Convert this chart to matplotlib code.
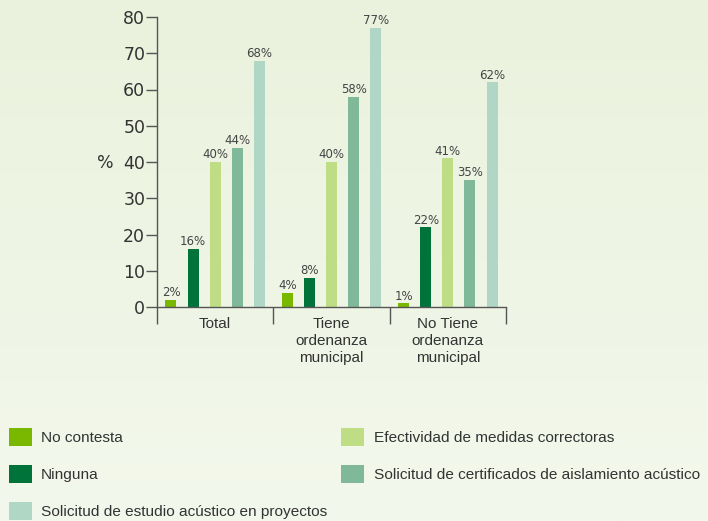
import numpy as np
import matplotlib
matplotlib.use('Agg')
import matplotlib.pyplot as plt
from matplotlib.patches import Patch

# data
groups = ['Total', 'Tiene\nordenanza\nmunicipal', 'No Tiene\nordenanza\nmunicipal']
series = ['No contesta', 'Ninguna', 'Efectividad de medidas correctoras',
          'Solicitud de certificados de aislamiento acústico',
          'Solicitud de estudio acústico en proyectos']
no_contesta = [2, 4, 1]
ninguna = [16, 8, 22]
efectividad = [40, 40, 41]
certificados = [44, 58, 35]
estudio = [68, 77, 62]
colors = ['#7ab800', '#00733a', '#bfdd85', '#80b99a', '#b0d6c5']

values = [no_contesta, ninguna, efectividad, certificados, estudio]

fig = plt.figure(figsize=(7.08, 5.21), dpi=100)

# background gradient
bg = fig.add_axes([0, 0, 1, 1], zorder=-10)
top = np.array([234, 242, 221]) / 255
bottom = np.array([243, 248, 236]) / 255
t = np.linspace(0, 1, 256)[:, None, None]
grad = top * (1 - t) + bottom * t
grad = np.repeat(grad, 4, axis=1)
bg.imshow(grad, aspect='auto', extent=[0, 1, 0, 1])
bg.axis('off')

ax = fig.add_axes([157 / 708, 1 - 307 / 521, 349 / 708, 290 / 521])
ax.patch.set_alpha(0)

spacing = 0.19
width = 0.095
centers = np.arange(len(groups)) + 0.5
for i, (vals, col) in enumerate(zip(values, colors)):
    xs = centers + (i - 2) * spacing
    ax.bar(xs, vals, width=width, color=col, zorder=2)
    for x, v in zip(xs, vals):
        ax.annotate(f'{v}%', (x, v), xytext=(0, 0.5), textcoords='offset points',
                    ha='center', va='bottom', fontsize=8.5, color='#444444',
                    family='DejaVu Sans')

ax.set_xlim(0, 3)
ax.set_ylim(0, 80)
ax.set_yticks(range(0, 81, 10))
ax.tick_params(axis='y', direction='out', length=8, width=1, color='#555555',
               labelsize=12.5, labelcolor='#333333', pad=0.5)
ax.set_xticks([0, 1, 2, 3])
ax.set_xticklabels([])
ax.tick_params(axis='x', which='major', direction='out', length=12, width=1, color='#555555')
ax.set_xticks(centers, minor=True)
ax.set_xticklabels(groups, minor=True, fontsize=11, color='#333333',
                   family='Liberation Sans', linespacing=1.3)
ax.tick_params(axis='x', which='minor', length=0, pad=7)
for s in ['top', 'right']:
    ax.spines[s].set_visible(False)
for s in ['left', 'bottom']:
    ax.spines[s].set_color('#555555')
    ax.spines[s].set_linewidth(1)

fig.text(105 / 708, 1 - 163 / 521, '%', ha='center', va='center', fontsize=12.5,
         color='#333333')

handles = [Patch(facecolor=colors[k], edgecolor='none', label=series[k]) for k in [0, 1, 4, 2, 3]]
fig.legend(handles=handles, loc='upper left', bbox_to_anchor=(9 / 708, 1 - 428 / 521),
           ncol=2, frameon=False, borderpad=0, borderaxespad=0,
           prop={'family': 'Liberation Sans', 'size': 11.05},
           handlelength=1.47, handleheight=1.47, handletextpad=0.62,
           columnspacing=0.92, labelspacing=1.2, labelcolor='#333333')

plt.savefig('out.png', dpi=100)
